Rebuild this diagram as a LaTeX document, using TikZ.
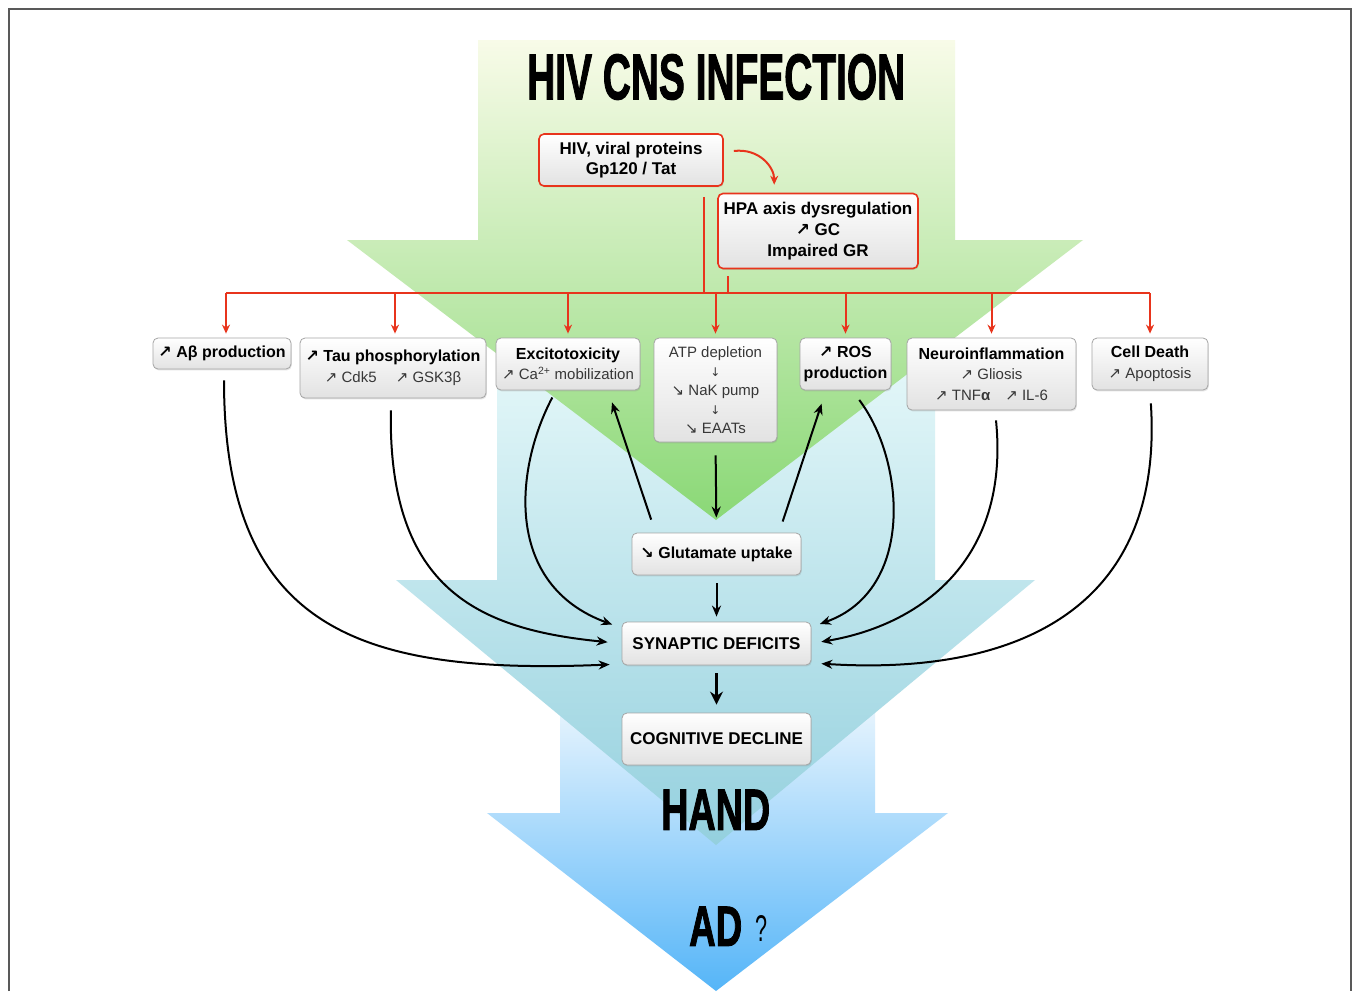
\documentclass[tikz,border=0pt]{standalone}
\usepackage{fontspec}
\usepackage{graphicx}
\setmainfont{Liberation Sans}
\newfontfamily\sym{DejaVu Sans}
\newfontfamily\heavy{Liberation Sans}[FakeBold=2]
\usetikzlibrary{arrows.meta,shadows}
\definecolor{hred}{RGB}{232,52,28}
\definecolor{boxgray}{RGB}{165,165,165}
\definecolor{boxbot}{RGB}{226,226,226}
\definecolor{txtgray}{RGB}{55,55,55}
\definecolor{gtop}{RGB}{248,251,232}
\definecolor{gmid}{RGB}{226,243,200}
\definecolor{gbot}{RGB}{138,216,118}
\definecolor{ctop}{RGB}{238,252,252}
\definecolor{cmid}{RGB}{214,244,246}
\definecolor{cbot}{RGB}{148,208,222}
\definecolor{btop}{RGB}{240,248,254}
\definecolor{bmid}{RGB}{200,231,251}
\definecolor{bbot}{RGB}{85,181,248}
\newcommand{\up}{{\sym ↗}}
\newcommand{\dn}{{\sym ↘}}
\newcommand{\dar}{{\sym\fontsize{12}{12}\selectfont ↓}}
\newcommand{\B}[1]{{\fontsize{16}{21}\selectfont\bfseries #1}}
\begin{document}
\begin{tikzpicture}[x=1pt,y=-1pt,
  box/.style={draw=boxgray, line width=0.8pt, rounded corners=5pt,
    top color=white, bottom color=boxbot,
    drop shadow={opacity=0.22, shadow xshift=0.8pt, shadow yshift=-1.4pt},
    align=center, inner sep=0pt, text=black, font=\fontsize{15}{20.5}\selectfont},
  rbox/.style={box, draw=hred, line width=1.6pt},
  blk/.style={-{Stealth[length=11pt,width=9pt]}, line width=2pt},
  rline/.style={draw=hred, line width=2pt},
  rarr/.style={rline, -{Stealth[length=9pt,width=8pt]}},
  bigtitle/.style={inner sep=0pt, anchor=south west},
]
\useasboundingbox (0,0) rectangle (1354,991);
\fill[white] (0,0) rectangle (1354,991);

% big background arrows
\shade[top color=btop, middle color=bmid, bottom color=bbot]
  (560,690) -- (875,690) -- (875,813) -- (948,813) -- (716,991) -- (487,813) -- (560,813) -- cycle;
\shade[top color=ctop, middle color=cmid, bottom color=cbot]
  (497,300) -- (935,300) -- (935,580) -- (1035,580) -- (716,845) -- (396,580) -- (497,580) -- cycle;
\shade[top color=gtop, middle color=gmid, bottom color=gbot]
  (478,40) -- (955,40) -- (955,240) -- (1083,240) -- (716,520) -- (347,240) -- (478,240) -- cycle;

% frame
\draw[black!65, line width=1.2pt] (9,991) -- (9,9) -- (1351,9) -- (1351,991);

% titles
\node[bigtitle] (title) at (527,100) {\resizebox{378pt}{45pt}{\heavy\bfseries HIV CNS INFECTION}};
\node[bigtitle] (hand) at (661,830) {\resizebox{109pt}{40pt}{\heavy\bfseries HAND}};
\node[bigtitle] (ad) at (689,946) {\resizebox{53pt}{39pt}{\heavy\bfseries AD}};
\node[bigtitle] (q) at (755,942) {\resizebox{12pt}{26pt}{?}};

% boxes
\node[rbox, minimum width=184, minimum height=52, font=\fontsize{17}{20.5}\selectfont\bfseries] (hiv) at (631,160)
  {HIV, viral proteins\\Gp120 / Tat};
\node[rbox, minimum width=200, minimum height=75, font=\fontsize{17}{21}\selectfont\bfseries] (hpa) at (818,231)
  {HPA axis dysregulation\\\up\ GC\\Impaired GR};

\node[box, minimum width=138, minimum height=31, font=\fontsize{16}{20.5}\selectfont\bfseries] (ab) at (222,353.5)
  {\up\ Aβ production};
\node[box, minimum width=186, minimum height=60] (tau) at (393,368)
  {\B{\up\ Tau phosphorylation}\\\color{txtgray}\up\ Cdk5\quad\ \up\ GSK3β};
\node[box, minimum width=144, minimum height=52] (exc) at (568,364)
  {\B{Excitotoxicity}\\\color{txtgray}\up\ Ca\textsuperscript{2+} mobilization};
\node[box, minimum width=123, minimum height=104, font=\fontsize{15}{19}\selectfont, text=txtgray] (atp) at (715.5,390)
  {ATP depletion\\\dar\\\dn\ NaK pump\\\dar\\\dn\ EAATs};
\node[box, minimum width=91, minimum height=52, font=\fontsize{16}{21}\selectfont\bfseries] (ros) at (845.5,364)
  {\up\ ROS\\production};
\node[box, minimum width=169, minimum height=72] (neu) at (991.5,374)
  {\B{Neuroinflammation}\\\color{txtgray}\up\ Gliosis\\\color{txtgray}\up\ TNF\textbf{α}\quad \up\ IL-6};
\node[box, minimum width=116, minimum height=52] (cell) at (1150,364)
  {\B{Cell Death}\\\color{txtgray}\up\ Apoptosis};

\node[box, minimum width=169, minimum height=42, font=\fontsize{16}{20}\selectfont\bfseries] (glu) at (716.5,554)
  {\dn\ Glutamate uptake};
\node[box, minimum width=189, minimum height=43, font=\fontsize{17}{20}\selectfont\bfseries] (syn) at (716.5,643.5)
  {SYNAPTIC DEFICITS};
\node[box, minimum width=189, minimum height=52, font=\fontsize{17}{20}\selectfont\bfseries] (cog) at (716.5,739)
  {COGNITIVE DECLINE};

% red connectors
\coordinate (bus) at (716,293);
\coordinate (abx) at ([xshift=4pt]ab.north);
\coordinate (taux) at ([xshift=2pt]tau.north);
\coordinate (hivout) at ([xshift=-20pt]hiv.south east);
\coordinate (hpaout) at ([xshift=11pt]hpa.south west);
\draw[rline] (abx |- bus) -- (cell.north |- bus);
\draw[rline, shorten <=10pt] (hivout) -- (hivout |- bus);
\draw[rline, shorten <=7pt] (hpaout) -- (hpaout |- bus);
\draw[rarr, shorten >=4pt] (abx |- bus) -- (abx);
\draw[rarr, shorten >=4pt] (taux |- bus) -- (taux);
\foreach \n in {exc,atp,ros,neu,cell}
  \draw[rarr, shorten >=4pt] (\n.north |- bus) -- (\n.north);
\draw[rarr] ([shift={(10,-9)}]hiv.east) .. controls +(25,-3) and +(0,-18) .. ([shift={(57,-8)}]hpa.north west);

% black connectors
\draw[blk, shorten <=11pt, shorten >=12pt] ([xshift=2pt]ab.south) .. controls +(0,260) and +(-262,11) .. ([yshift=-20.5pt]syn.west);
\draw[blk, shorten <=12pt, shorten >=14pt] ([xshift=-2pt]tau.south) .. controls +(-3,192) and +(-142,-14) .. (syn.west);
\draw[blk, shorten <=8pt, shorten >=10pt] ([xshift=-12pt]exc.south) .. controls +(-42,80) and +(-117,-43) .. ([yshift=15.5pt]syn.west);
\draw[blk, shorten <=12pt, shorten >=9pt] ([xshift=6.5pt]ros.south) .. controls +(53,70) and +(104,-37) .. ([yshift=16.5pt]syn.east);
\draw[blk, shorten <=10pt, shorten >=10pt] ([xshift=3.5pt]neu.south) .. controls +(15,150) and +(109,-18.5) .. (syn.east);
\draw[blk, shorten <=13pt, shorten >=10pt] (cell.south) .. controls +(15,230) and +(189,12) .. ([yshift=-19.5pt]syn.east);
\draw[blk, shorten <=13.7pt, shorten >=12.6pt] ([xshift=-61pt]glu.north) -- ([xshift=40pt]exc.south);
\draw[blk, shorten <=11.7pt, shorten >=14pt] ([xshift=62.5pt]glu.north) -- ([xshift=-19.5pt]ros.south);
\draw[blk, shorten <=13pt, shorten >=15pt] (atp.south) -- (glu.north);
\draw[blk, shorten <=8pt, shorten >=5pt] (glu.south) -- (syn.north);
\draw[-{Stealth[length=13pt,width=13pt]}, line width=3pt, shorten <=8pt, shorten >=8pt] (syn.south) -- (cog.north);
\end{tikzpicture}
\end{document}
